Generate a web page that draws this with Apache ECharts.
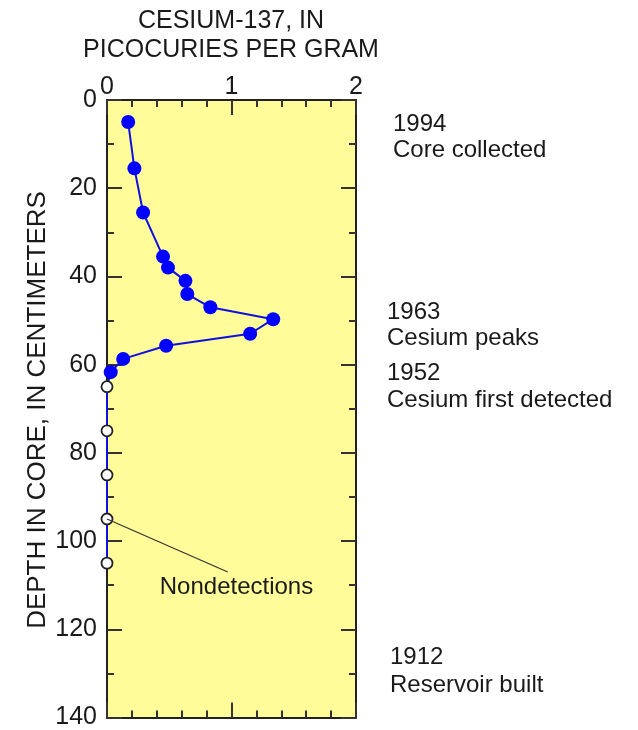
<!DOCTYPE html>
<html>
<head>
<meta charset="utf-8">
<style>html,body{margin:0;padding:0;background:#fff}#c{width:638px;height:730px}</style>
<script src="https://cdn.jsdelivr.net/npm/echarts@6/dist/echarts.min.js"></script>
</head>
<body>
<div id="c"></div>
<script>
// Detected cesium-137 concentrations (pCi/g) and their depths (cm)
const detectedValues = [0.17, 0.22, 0.29, 0.45, 0.49, 0.63, 0.645, 0.83, 1.335, 1.15, 0.475, 0.13, 0.03];
const detectedDepths = [5, 15.5, 25.5, 35.5, 38, 41, 44, 47, 49.7, 53, 55.7, 58.7, 61.7];
// Nondetections (plotted at zero)
const nondetectValues = [0, 0, 0, 0, 0];
const nondetectDepths = [65, 75, 85, 95, 105];
// Axis ticks
const xTicks = [0, 1, 2];
const yTicks = [0, 20, 40, 60, 80, 100, 120, 140];
// Annotations
const events = [
  ['1994', 'Core collected'],
  ['1963', 'Cesium peaks'],
  ['1952', 'Cesium first detected'],
  ['1912', 'Reservoir built']
];

const FONT = 'Liberation Sans, Arial, Helvetica, sans-serif';
const detected = detectedValues.map((v, i) => [v, detectedDepths[i]]);
const nondetect = nondetectValues.map((v, i) => [v, nondetectDepths[i]]);
const profile = detected.concat(nondetect);

const chart = echarts.init(document.getElementById('c'), null, {renderer: 'canvas'});

const axisLine = {show: true, onZero: false, lineStyle: {color: '#222', width: 2}};
const tickStyle = {show: true, inside: true, length: 15, lineStyle: {color: '#333', width: 2}};
const minorStyle = {show: true, length: 7, lineStyle: {color: '#333', width: 2}};

const evPos = [[393, 124, 150], [387, 312, 338], [387, 373, 400], [390, 657, 685]];
const graphics = [
  {type: 'text', x: 231, y: 21, style: {text: 'CESIUM-137, IN', font: '25px ' + FONT, fill: '#1a1a1a', textAlign: 'center', textVerticalAlign: 'middle'}},
  {type: 'text', x: 231, y: 50, style: {text: 'PICOCURIES PER GRAM', font: '25px ' + FONT, fill: '#1a1a1a', textAlign: 'center', textVerticalAlign: 'middle'}},
  {type: 'text', x: 38, y: 410, rotation: Math.PI / 2, style: {text: 'DEPTH IN CORE, IN CENTIMETERS', font: '26px ' + FONT, fill: '#1a1a1a', textAlign: 'center', textVerticalAlign: 'middle'}}
];
events.forEach((e, i) => {
  graphics.push({type: 'text', x: evPos[i][0], y: evPos[i][1], style: {text: e[0], font: '24px ' + FONT, fill: '#1a1a1a', textVerticalAlign: 'middle'}});
  graphics.push({type: 'text', x: evPos[i][0], y: evPos[i][2], style: {text: e[1], font: '24px ' + FONT, fill: '#1a1a1a', textVerticalAlign: 'middle'}});
});

chart.setOption({
  animation: false,
  grid: {left: 107, right: 282, top: 100, bottom: 10, show: true, backgroundColor: '#fffc99', borderWidth: 0},
  xAxis: [
    {type: 'value', position: 'top', min: xTicks[0], max: xTicks[xTicks.length - 1], interval: 1,
     axisLine: axisLine, axisTick: tickStyle, minorTick: Object.assign({splitNumber: 5}, minorStyle),
     splitLine: {show: false},
     axisLabel: {margin: 0, fontSize: 25, fontFamily: FONT, color: '#1a1a1a'}},
    {type: 'value', position: 'bottom', min: xTicks[0], max: xTicks[xTicks.length - 1], interval: 1,
     axisLine: axisLine, axisTick: tickStyle, minorTick: Object.assign({splitNumber: 5}, minorStyle),
     splitLine: {show: false}, axisLabel: {show: false}}
  ],
  yAxis: [
    {type: 'value', inverse: true, position: 'left', min: yTicks[0], max: yTicks[yTicks.length - 1], interval: 20,
     axisLine: axisLine, axisTick: tickStyle, minorTick: Object.assign({splitNumber: 2}, minorStyle),
     splitLine: {show: false},
     axisLabel: {margin: 10, fontSize: 25, fontFamily: FONT, color: '#1a1a1a'}},
    {type: 'value', inverse: true, position: 'right', min: yTicks[0], max: yTicks[yTicks.length - 1], interval: 20,
     axisLine: axisLine, axisTick: tickStyle, minorTick: Object.assign({splitNumber: 2}, minorStyle),
     splitLine: {show: false}, axisLabel: {show: false}}
  ],
  series: [
    {type: 'line', data: profile, xAxisIndex: 0, yAxisIndex: 0, showSymbol: false, symbol: 'none',
     lineStyle: {color: '#1010e0', width: 2}, z: 2},
    {type: 'scatter', data: detected, xAxisIndex: 0, yAxisIndex: 0, symbol: 'circle', symbolSize: 14,
     itemStyle: {color: '#0000ff', opacity: 1}, z: 3},
    {type: 'scatter', data: nondetect, xAxisIndex: 0, yAxisIndex: 0, symbol: 'circle', symbolSize: 11,
     itemStyle: {color: '#ffffff', borderColor: '#222', borderWidth: 1.8, opacity: 1}, z: 4,
     markLine: {silent: true, symbol: 'none', label: {show: false},
       lineStyle: {color: '#333', width: 1.2, type: 'solid'},
       data: [[{coord: [0, 95]}, {coord: [0.97, 107]}]]}}
  ],
  graphic: graphics
});

const p = chart.convertToPixel({xAxisIndex: 0, yAxisIndex: 0}, [1.04, 110.6]);
chart.setOption({graphic: graphics.concat([
  {type: 'text', x: p[0], y: p[1], style: {text: 'Nondetections', font: '24px ' + FONT, fill: '#1a1a1a', textAlign: 'center', textVerticalAlign: 'middle'}}
])});
</script>
</body>
</html>
